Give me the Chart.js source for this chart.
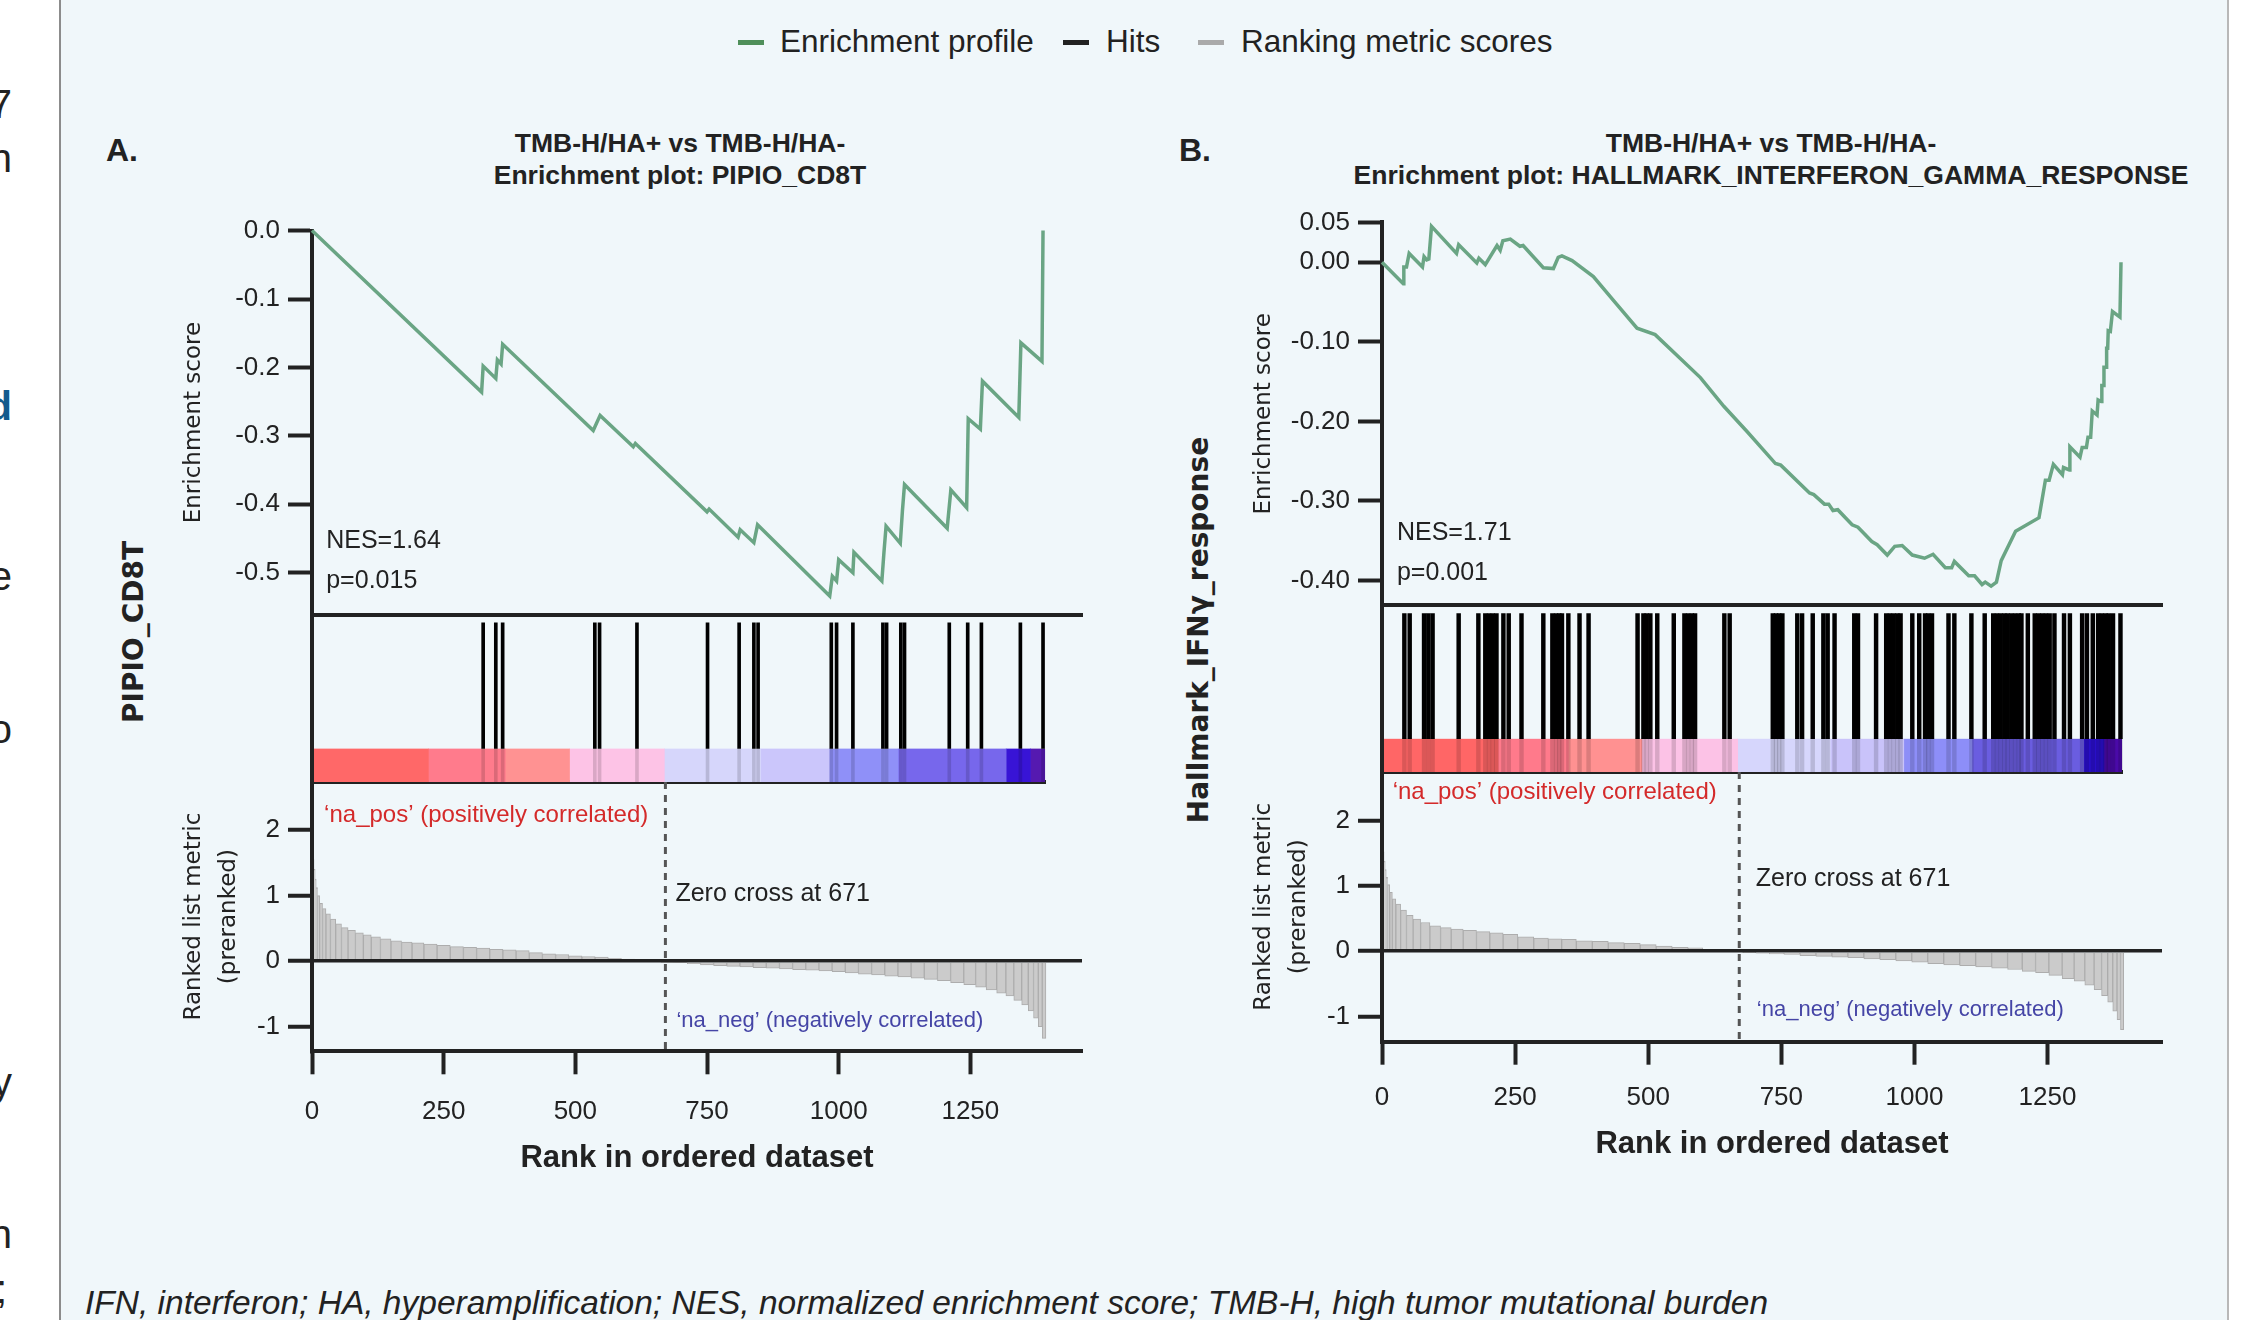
<!DOCTYPE html>
<html>
<head>
<meta charset="utf-8">
<title>GSEA enrichment plots</title>
<script src="https://cdn.jsdelivr.net/npm/chart.js@4.4.1/dist/chart.umd.min.js"></script>
<style>
  html, body { margin: 0; padding: 0; }
  body {
    width: 2258px; height: 1320px; position: relative; overflow: hidden;
    background: #fff; color: #222;
    font-family: "Liberation Sans", Arial, sans-serif;
  }
  #panel {
    position: absolute; left: 59px; top: 0; width: 2170px; height: 1320px;
    background: #f0f7fa; box-sizing: border-box;
    border-left: 2px solid #8c8c8c; border-right: 2px solid #b8b8b8;
  }
  .t { position: absolute; white-space: nowrap; line-height: 1; }
  .mid { transform: translateY(-50%); }
  .ctr { transform: translate(-50%, -50%); }
  .rot { transform: translate(-50%, -50%) rotate(-90deg); }
  .frag { position: absolute; left: -188px; width: 200px; text-align: right; font-size: 40px; line-height: 1; transform: translateY(-50%); }
  .sw { position: absolute; height: 5px; width: 26px; }
  .legend { font-size: 31.5px; }
  .title { font-weight: bold; font-size: 26.5px; }
  .letter { font-weight: bold; font-size: 32px; }
  .side { font-family: "DejaVu Sans", sans-serif; font-weight: bold; font-size: 28px; }
  .foot { font-style: italic; font-size: 33.5px; }
</style>
</head>
<body>
<div id="panel"></div>

<!-- clipped text of the neighbouring column -->
<div class="frag" style="top:104px">7</div>
<div class="frag" style="top:158px">n</div>
<div class="frag" style="top:406px;font-weight:bold;color:#135a8c">d</div>
<div class="frag" style="top:576px">e</div>
<div class="frag" style="top:729px">o</div>
<div class="frag" style="top:1082px">y</div>
<div class="frag" style="top:1234px">n</div>
<div class="frag" style="top:1289px;left:-193px">;</div>

<!-- legend -->
<div class="sw" style="left:738px;top:40px;background:#4f8f5a"></div>
<div class="t mid legend" style="left:780px;top:42px">Enrichment profile</div>
<div class="sw" style="left:1063px;top:40px;background:#222"></div>
<div class="t mid legend" style="left:1106px;top:42px">Hits</div>
<div class="sw" style="left:1198px;top:40px;background:#aaa"></div>
<div class="t mid legend" style="left:1241px;top:42px">Ranking metric scores</div>

<!-- panel A labels -->
<div class="t mid letter" style="left:106px;top:150px">A.</div>
<div class="t ctr title" style="left:680px;top:143px">TMB-H/HA+ vs TMB-H/HA-</div>
<div class="t ctr title" style="left:680px;top:175px">Enrichment plot: PIPIO_CD8T</div>
<div class="t rot side" style="left:134px;top:632px">PIPIO_CD8T</div>

<!-- panel B labels -->
<div class="t mid letter" style="left:1179px;top:150px">B.</div>
<div class="t ctr title" style="left:1771px;top:143px">TMB-H/HA+ vs TMB-H/HA-</div>
<div class="t ctr title" style="left:1771px;top:175px">Enrichment plot: HALLMARK_INTERFERON_GAMMA_RESPONSE</div>
<div class="t rot side" style="left:1199px;top:630px">Hallmark_IFNγ_response</div>

<div class="t mid foot" style="left:85px;top:1303px">IFN, interferon; HA, hyperamplification; NES, normalized enrichment score; TMB-H, high tumor mutational burden</div>

<script>
/* ── Data ── */
const rankTicks = [0, 250, 500, 750, 1000, 1250];
const metricTicks = [2, 1, 0, -1];
const zeroCross = 671;

// A. PIPIO_CD8T
const esTicksA = [0, -0.1, -0.2, -0.3, -0.4, -0.5];
const esRankA = [0, 322, 325, 349, 352, 359, 362, 534, 547, 610, 614, 750, 754, 809, 813, 839, 846,
  983, 988, 996, 1000, 1027, 1029, 1082, 1086, 1090, 1117, 1121, 1125, 1206, 1213, 1243, 1246,
  1269, 1273, 1342, 1346, 1386, 1388];
const esValA = [0, -0.236, -0.198, -0.216, -0.189, -0.195, -0.166, -0.292, -0.270, -0.316, -0.311,
  -0.411, -0.407, -0.448, -0.437, -0.456, -0.430, -0.534, -0.505, -0.512, -0.481, -0.500, -0.470,
  -0.512, -0.470, -0.432, -0.457, -0.410, -0.371, -0.435, -0.379, -0.405, -0.275, -0.290, -0.220,
  -0.273, -0.164, -0.191, 0.0];
const hitsA = [325, 349, 362, 537, 546, 617, 751, 811, 839, 847, 986, 996, 1027, 1084, 1091,
  1118, 1125, 1210, 1245, 1271, 1345, 1388];
const metricRankA = [1, 2, 3, 5, 7, 9, 12, 17, 23, 30, 40, 50, 62, 75, 90, 105, 120, 140, 160, 180,
  200, 225, 250, 275, 300, 325, 350, 375, 400, 425, 450, 475, 500, 525, 550, 575, 600, 625, 650,
  675, 700, 725, 750, 775, 800, 825, 850, 875, 900, 925, 950, 975, 1000, 1025, 1050, 1075, 1100,
  1125, 1150, 1175, 1200, 1225, 1250, 1270, 1290, 1310, 1325, 1340, 1355, 1365, 1375, 1383, 1390];
const metricValA = [1.85, 1.7, 1.55, 1.4, 1.25, 1.12, 1.0, 0.88, 0.8, 0.72, 0.64, 0.57, 0.51,
  0.47, 0.43, 0.40, 0.37, 0.34, 0.31, 0.29, 0.28, 0.26, 0.24, 0.22, 0.21, 0.20, 0.18, 0.17, 0.16,
  0.13, 0.11, 0.10, 0.08, 0.07, 0.06, 0.04, 0.03, 0.01, 0.005, -0.005, -0.02, -0.04, -0.06, -0.07,
  -0.08, -0.09, -0.10, -0.11, -0.12, -0.13, -0.14, -0.15, -0.16, -0.18, -0.20, -0.21, -0.23,
  -0.24, -0.26, -0.28, -0.30, -0.33, -0.36, -0.40, -0.44, -0.49, -0.53, -0.60, -0.67, -0.76,
  -0.87, -1.0, -1.18];
const cbEdgesA = [0, 221, 367, 489, 669, 852, 982, 1113, 1318, 1364, 1392];
const cbColorsA = ['#ff6868', '#ff7b8c', '#ff9292', '#fdc3e6', '#d6d6fb', '#cbc6fb', '#8f90f8',
  '#7767ec', '#3814d6', '#5519b0'];

// B. HALLMARK_INTERFERON_GAMMA_RESPONSE
const esTicksB = [0.05, 0, -0.1, -0.2, -0.3, -0.4];
const esRankB = [0, 40, 41, 46, 51, 76, 79, 84, 88, 93, 140, 144, 178, 182, 194, 216, 222, 227,
  241, 259, 265, 303, 322, 331, 338, 357, 397, 441, 479, 513, 598, 642, 686, 739, 749, 803, 811,
  831, 839, 847, 856, 883, 894, 920, 930, 949, 963, 977, 996, 1019, 1035, 1058, 1070, 1075, 1102,
  1113, 1127, 1133, 1144, 1154, 1163, 1190, 1234, 1246, 1253, 1261, 1278, 1280, 1291, 1292, 1311,
  1315, 1323, 1326, 1331, 1334, 1343, 1345, 1351, 1352, 1355, 1356, 1360, 1361, 1363, 1364, 1368,
  1372, 1386, 1388];
const esValB = [0, -0.027, -0.006, -0.006, 0.011, -0.006, 0.007, 0.003, 0.004, 0.045, 0.011,
  0.022, -0.001, 0.005, -0.003, 0.021, 0.015, 0.027, 0.029, 0.020, 0.021, -0.007, -0.008, 0.006,
  0.008, 0.002, -0.018, -0.053, -0.083, -0.091, -0.145, -0.181, -0.213, -0.253, -0.255, -0.290,
  -0.292, -0.304, -0.304, -0.312, -0.311, -0.330, -0.333, -0.351, -0.355, -0.368, -0.357, -0.356,
  -0.368, -0.372, -0.367, -0.384, -0.384, -0.376, -0.394, -0.394, -0.405, -0.402, -0.407, -0.402,
  -0.375, -0.338, -0.321, -0.274, -0.274, -0.254, -0.267, -0.258, -0.261, -0.232, -0.245, -0.233,
  -0.233, -0.220, -0.220, -0.187, -0.192, -0.173, -0.175, -0.155, -0.155, -0.132, -0.132, -0.108,
  -0.108, -0.086, -0.087, -0.062, -0.069, 0.0];
const hitsB = [42, 52, 79, 87, 95, 144, 181, 194, 201, 208, 215, 228, 238, 262, 303, 320, 327,
  333, 338, 350, 371, 388, 480, 491, 497, 504, 517, 548, 568, 575, 582, 588, 643, 653, 734, 740,
  746, 752, 780, 789, 809, 829, 837, 850, 887, 894, 928, 947, 954, 961, 968, 974, 996, 1009, 1020,
  1026, 1033, 1064, 1075, 1107, 1132, 1148, 1155, 1162, 1169, 1175, 1182, 1189, 1196, 1201, 1213,
  1226, 1233, 1240, 1247, 1254, 1263, 1281, 1292, 1315, 1324, 1335, 1345, 1352, 1359, 1365, 1373,
  1387];
const metricRankB = [1, 2, 3, 5, 7, 9, 12, 17, 22, 30, 40, 52, 65, 80, 100, 120, 140, 165, 190,
  215, 240, 270, 300, 325, 350, 380, 410, 440, 470, 500, 530, 560, 590, 615, 640, 665, 690, 715,
  740, 770, 800, 830, 860, 890, 920, 950, 980, 1010, 1040, 1070, 1100, 1130, 1160, 1190, 1215,
  1240, 1265, 1290, 1310, 1330, 1345, 1358, 1368, 1377, 1384, 1390];
const metricValB = [1.75, 1.65, 1.52, 1.38, 1.25, 1.13, 1.02, 0.9, 0.8, 0.72, 0.63, 0.55, 0.49,
  0.44, 0.39, 0.36, 0.34, 0.32, 0.30, 0.28, 0.26, 0.22, 0.20, 0.19, 0.18, 0.16, 0.15, 0.13, 0.12,
  0.10, 0.08, 0.06, 0.05, 0.03, 0.015, 0.005, -0.01, -0.03, -0.04, -0.05, -0.07, -0.08, -0.09,
  -0.10, -0.12, -0.13, -0.15, -0.17, -0.19, -0.21, -0.22, -0.24, -0.26, -0.28, -0.31, -0.33,
  -0.37, -0.42, -0.46, -0.52, -0.59, -0.68, -0.78, -0.92, -1.05, -1.20];
const cbEdgesB = [0, 218, 350, 488, 668, 842, 980, 1108, 1318, 1356, 1390];
const cbColorsB = ['#ff6666', '#ff7a8b', '#ff9191', '#fcc2e6', '#d6d6fc', '#c9c3fa', '#8d8ef8',
  '#6a5de0', '#2a0fcc', '#4a0aa8'];

/* ── Look ── */
const INK = '#222';
const FONT = '"Liberation Sans", Arial, sans-serif';
const GREEN = '#6aa584';
const AXIS = { display: true, width: 4, color: INK };
const CB_FRAC = 0.2;   // colour bar share of the hits strip
const HIT_TOP = 0.95;

Chart.defaults.font.family = FONT;
Chart.defaults.color = INK;
Chart.defaults.animation = false;
Chart.defaults.events = [];
Chart.defaults.plugins.legend.display = false;
Chart.defaults.plugins.tooltip.enabled = false;

const panels = [
  {
    esBox: { l: 312, t: 230.6, r: 1082, b: 614.5 },
    hitsBox: { l: 312, t: 614.5, r: 1082, b: 782 },
    metricBox: { l: 312, t: 782, r: 1082, b: 1051.3 },
    xMax: 1462, esMin: -0.561, esMax: 0, esDigits: 1, esTicks: esTicksA,
    esRank: esRankA, esVal: esValA, hits: hitsA, hitWidth: 3,
    mRank: metricRankA, mVal: metricValA, mMin: -1.377, mMax: 2.733,
    cbEdges: cbEdgesA, cbColors: cbColorsA,
    xLabelPad: 22, xTitlePad: 9,
    esNotes: [
      { x: 27, y: -0.454, text: 'NES=1.64' },
      { x: 27, y: -0.512, text: 'p=0.015' }
    ],
    metricNotes: [
      { x: 23, y: 2.23, text: '\u2018na_pos\u2019 (positively correlated)', color: '#d42a2a', size: 24 },
      { x: 690, y: 1.02, text: 'Zero cross at 671', color: INK, size: 25 },
      { x: 692, y: -0.91, text: '\u2018na_neg\u2019 (negatively correlated)', color: '#4545a6', size: 22 }
    ]
  },
  {
    esBox: { l: 1382, t: 222.4, r: 2162, b: 605.2 },
    hitsBox: { l: 1382, t: 605.2, r: 2162, b: 772 },
    metricBox: { l: 1382, t: 772, r: 2162, b: 1041.7 },
    xMax: 1465, esMin: -0.431, esMax: 0.05, esDigits: 2, esTicks: esTicksB,
    esRank: esRankB, esVal: esValB, hits: hitsB, hitWidth: 3.8,
    mRank: metricRankB, mVal: metricValB, mMin: -1.386, mMax: 2.744,
    cbEdges: cbEdgesB, cbColors: cbColorsB,
    xLabelPad: 18, xTitlePad: 14,
    esNotes: [
      { x: 28, y: -0.341, text: 'NES=1.71' },
      { x: 28, y: -0.391, text: 'p=0.001' }
    ],
    metricNotes: [
      { x: 20, y: 2.43, text: '\u2018na_pos\u2019 (positively correlated)', color: '#d42a2a', size: 24 },
      { x: 702, y: 1.1, text: 'Zero cross at 671', color: INK, size: 25 },
      { x: 704, y: -0.9, text: '\u2018na_neg\u2019 (negatively correlated)', color: '#4545a6', size: 22 }
    ]
  }
];

/* ── Helpers ── */
// canvas placed so the chart area lands on `box` (page px); returns the real margins
function mount(box, pad) {
  const left = Math.floor(box.l - pad.l), top = Math.floor(box.t - pad.t);
  const right = Math.ceil(box.r + pad.r), bottom = Math.ceil(box.b + pad.b);
  const cv = document.createElement('canvas');
  cv.width = right - left;
  cv.height = bottom - top;
  cv.style.cssText = `position:absolute;left:${left}px;top:${top}px;width:${right - left}px;height:${bottom - top}px`;
  document.body.appendChild(cv);
  return { cv, l: box.l - left, t: box.t - top, r: right - box.r, b: bottom - box.b };
}

function hiddenX(max, withBorder) {
  return {
    type: 'linear', min: 0, max, bounds: 'data', offset: false,
    ticks: { display: false },
    grid: { display: false, offset: false },
    border: withBorder ? AXIS : { display: false },
    afterFit: (s) => { s.height = 0; }
  };
}

function tickGrid(len) {
  return { display: true, drawOnChartArea: false, drawTicks: true, tickLength: len, tickWidth: 4, tickColor: INK };
}

const notesPlugin = {
  id: 'notes',
  afterDatasetsDraw(chart, args, opts) {
    const { ctx, scales } = chart;
    (opts.items || []).forEach((n) => {
      ctx.save();
      ctx.font = `${n.size || 25}px ${FONT}`;
      ctx.fillStyle = n.color || INK;
      ctx.textAlign = 'left';
      ctx.textBaseline = 'middle';
      ctx.fillText(n.text, scales.x.getPixelForValue(n.x), scales.y.getPixelForValue(n.y));
      ctx.restore();
    });
  }
};

/* ── Enrichment profile ── */
function drawEnrichment(P) {
  // y labels ask for half a label of room above and below, so keep the margins generous
  const m = mount(P.esBox, { l: 150, t: 32, r: 20, b: 32 });
  new Chart(m.cv, {
    type: 'line',
    data: {
      datasets: [{
        data: P.esRank.map((x, i) => ({ x, y: P.esVal[i] })),
        borderColor: GREEN, borderWidth: 3.5, pointRadius: 0, tension: 0, clip: 12
      }]
    },
    options: {
      responsive: false,
      layout: { padding: { left: 0, top: m.t, right: m.r, bottom: m.b } },
      plugins: { notes: { items: P.esNotes } },
      scales: {
        x: hiddenX(P.xMax, true),
        y: {
          type: 'linear', min: P.esMin, max: P.esMax, bounds: 'data',
          afterBuildTicks: (s) => { s.ticks = P.esTicks.map((v) => ({ value: v })); },
          afterFit: (s) => { s.width = m.l; },
          ticks: { font: { size: 26 }, padding: 8, color: INK, callback: (v) => Number(v).toFixed(P.esDigits) },
          grid: tickGrid(24),
          border: AXIS,
          title: {
            display: true, text: 'Enrichment score', color: INK,
            font: { family: '"DejaVu Sans", sans-serif', size: 23, lineHeight: 1.5 },
            padding: { top: 15, bottom: 0 }
          }
        }
      }
    },
    plugins: [notesPlugin]
  });
}

/* ── Colour bar under the hits ── */
function drawColorbar(P) {
  const hb = P.hitsBox;
  const pxPerRank = (hb.r - hb.l) / P.xMax;
  const end = P.cbEdges[P.cbEdges.length - 1];
  const box = { l: hb.l, t: hb.b - CB_FRAC * (hb.b - hb.t), r: hb.l + end * pxPerRank, b: hb.b };
  const m = mount(box, { l: 10, t: 4, r: 10, b: 8 });
  new Chart(m.cv, {
    type: 'bar',
    data: {
      labels: ['rank'],
      datasets: P.cbColors.map((c, i) => ({
        data: [[P.cbEdges[i], P.cbEdges[i + 1]]],
        backgroundColor: c, borderWidth: 0, grouped: false,
        barPercentage: 1, categoryPercentage: 1
      }))
    },
    options: {
      indexAxis: 'y',
      responsive: false,
      layout: { padding: { left: m.l, top: m.t, right: m.r, bottom: m.b } },
      scales: {
        x: hiddenX(end, true),
        y: {
          type: 'category', ticks: { display: false }, grid: { display: false },
          border: { display: false }, afterFit: (s) => { s.width = 0; }
        }
      }
    }
  });
}

/* ── Hits ── */
function drawHits(P) {
  const m = mount(P.hitsBox, { l: 150, t: 6, r: 20, b: 6 });
  const band = (lo, hi, color) => ({
    data: P.hits.map((x) => ({ x, y: [lo, hi] })),
    backgroundColor: color, borderWidth: 0, barThickness: P.hitWidth, grouped: false
  });
  new Chart(m.cv, {
    type: 'bar',
    data: { datasets: [band(CB_FRAC, HIT_TOP, '#000'), band(0, CB_FRAC, 'rgba(0,0,0,0.14)')] },
    options: {
      responsive: false,
      layout: { padding: { left: 0, top: m.t, right: m.r, bottom: m.b } },
      scales: {
        x: hiddenX(P.xMax, false),
        y: {
          type: 'linear', min: 0, max: 1, bounds: 'data',
          ticks: { display: false }, grid: { display: false }, border: AXIS,
          afterFit: (s) => { s.width = m.l; }
        }
      }
    }
  });
}

/* ── Ranked list metric ── */
function drawMetric(P) {
  const AX_H = 135;
  const m = mount(P.metricBox, { l: 150, t: 32, r: 20, b: AX_H });
  new Chart(m.cv, {
    type: 'bar',
    data: {
      datasets: [
        {
          type: 'line', order: 0,
          data: [{ x: zeroCross, y: P.mMax }, { x: zeroCross, y: P.mMin }],
          borderColor: '#555', borderWidth: 3, borderDash: [7, 6], pointRadius: 0
        },
        {
          order: 1,
          data: P.mRank.map((x, i) => ({ x, y: P.mVal[i] })),
          backgroundColor: '#cbcbcb', borderColor: '#adadad', borderWidth: 1,
          barThickness: 'flex', barPercentage: 1, categoryPercentage: 1
        }
      ]
    },
    options: {
      responsive: false,
      layout: { padding: { left: 0, top: m.t, right: m.r, bottom: m.b - AX_H } },
      plugins: { notes: { items: P.metricNotes } },
      scales: {
        x: {
          type: 'linear', min: 0, max: P.xMax, bounds: 'data', offset: false,
          afterBuildTicks: (s) => { s.ticks = rankTicks.map((v) => ({ value: v })); },
          afterFit: (s) => { s.height = AX_H; },
          ticks: { font: { size: 26 }, padding: P.xLabelPad, color: INK, autoSkip: false, maxRotation: 0, callback: (v) => String(v) },
          grid: Object.assign(tickGrid(23), { offset: false }),
          border: AXIS,
          title: {
            display: true, text: 'Rank in ordered dataset', color: INK,
            font: { size: 31, weight: 'bold' }, padding: { top: 0, bottom: P.xTitlePad }
          }
        },
        y: {
          type: 'linear', min: P.mMin, max: P.mMax, bounds: 'data',
          afterBuildTicks: (s) => { s.ticks = metricTicks.map((v) => ({ value: v })); },
          afterFit: (s) => { s.width = m.l; },
          ticks: { font: { size: 26 }, padding: 8, color: INK, z: 1, callback: (v) => String(v) },
          // zero line sits above the bars, so grid and border share one layer
          grid: {
            display: true, drawOnChartArea: true, z: 1,
            color: (c) => (c.tick && c.tick.value === 0 ? INK : 'rgba(0,0,0,0)'),
            lineWidth: 3.5, drawTicks: true, tickLength: 24, tickWidth: 4, tickColor: INK
          },
          border: Object.assign({ z: 1 }, AXIS),
          title: {
            display: true, text: ['Ranked list metric', '(preranked)'], color: INK,
            font: { family: '"DejaVu Sans", sans-serif', size: 23, lineHeight: 1.5 },
            padding: { top: 15, bottom: 0 }
          }
        }
      }
    },
    plugins: [notesPlugin]
  });
}

panels.forEach((P) => {
  drawEnrichment(P);
  drawColorbar(P);
  drawHits(P);
  drawMetric(P);
});
</script>
</body>
</html>
